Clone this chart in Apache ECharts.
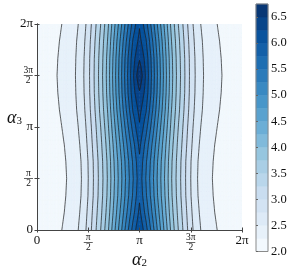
<!DOCTYPE html>
<html><head><meta charset="utf-8">
<script src="https://cdn.jsdelivr.net/npm/echarts@6/dist/echarts.min.js"></script>
<style>html,body{margin:0;padding:0;background:#fff}#c{width:289px;height:273px}</style>
</head><body><div id="c"></div>
<script>
// grid positions, in units of pi
const alpha2 = [0,0.0625,0.125,0.1875,0.25,0.3125,0.375,0.4375,0.5,0.5625,0.625,0.6875,0.75,0.8125,0.875,0.9375,1,
  1.0625,1.125,1.1875,1.25,1.3125,1.375,1.4375,1.5,1.5625,1.625,1.6875,1.75,1.8125,1.875,1.9375,2];
const alpha3 = [0,0.16667,0.33333,0.5,0.66667,0.83333,1,1.16667,1.33333,1.5,1.66667,1.83333,2];
// values, one row per alpha3 position
const z00 = [2.08,2.10,2.14,2.18,2.26,2.35,2.43,2.59,2.84,3.17,3.52,3.92,4.41,4.89,5.38,5.85,6.22,5.85,5.38,4.89,4.41,3.92,3.52,3.17,2.84,2.59,2.43,2.35,2.26,2.18,2.14,2.10,2.08];
const z01 = [2.06,2.08,2.11,2.15,2.23,2.31,2.40,2.55,2.80,3.12,3.46,3.84,4.31,4.77,5.23,5.67,6.07,5.67,5.23,4.77,4.31,3.84,3.46,3.12,2.80,2.55,2.40,2.31,2.23,2.15,2.11,2.08,2.06];
const z02 = [2.04,2.06,2.09,2.13,2.21,2.29,2.37,2.52,2.76,3.07,3.41,3.78,4.24,4.67,5.12,5.54,5.95,5.54,5.12,4.67,4.24,3.78,3.41,3.07,2.76,2.52,2.37,2.29,2.21,2.13,2.09,2.06,2.04];
const z03 = [2.03,2.05,2.08,2.12,2.20,2.28,2.36,2.51,2.75,3.06,3.39,3.76,4.21,4.64,5.08,5.49,5.90,5.49,5.08,4.64,4.21,3.76,3.39,3.06,2.75,2.51,2.36,2.28,2.20,2.12,2.08,2.05,2.03];
const z04 = [2.04,2.06,2.09,2.13,2.21,2.29,2.37,2.52,2.76,3.07,3.41,3.78,4.24,4.67,5.12,5.54,5.95,5.54,5.12,4.67,4.24,3.78,3.41,3.07,2.76,2.52,2.37,2.29,2.21,2.13,2.09,2.06,2.04];
const z05 = [2.06,2.08,2.11,2.15,2.23,2.31,2.40,2.55,2.80,3.12,3.46,3.84,4.31,4.77,5.23,5.67,6.07,5.67,5.23,4.77,4.31,3.84,3.46,3.12,2.80,2.55,2.40,2.31,2.23,2.15,2.11,2.08,2.06];
const z06 = [2.08,2.10,2.14,2.18,2.26,2.35,2.43,2.59,2.84,3.17,3.52,3.92,4.41,4.89,5.38,5.85,6.22,5.85,5.38,4.89,4.41,3.92,3.52,3.17,2.84,2.59,2.43,2.35,2.26,2.18,2.14,2.10,2.08];
const z07 = [2.11,2.13,2.16,2.21,2.29,2.38,2.47,2.63,2.89,3.23,3.59,4.00,4.51,5.02,5.53,6.03,6.33,6.03,5.53,5.02,4.51,4.00,3.59,3.23,2.89,2.63,2.47,2.38,2.29,2.21,2.16,2.13,2.11];
const z08 = [2.12,2.14,2.18,2.23,2.31,2.40,2.49,2.66,2.92,3.27,3.63,4.06,4.58,5.11,5.64,6.16,6.47,6.16,5.64,5.11,4.58,4.06,3.63,3.27,2.92,2.66,2.49,2.40,2.31,2.23,2.18,2.14,2.12];
const z09 = [2.13,2.15,2.19,2.24,2.32,2.41,2.50,2.67,2.93,3.28,3.65,4.08,4.61,5.14,5.68,6.21,6.72,6.21,5.68,5.14,4.61,4.08,3.65,3.28,2.93,2.67,2.50,2.41,2.32,2.24,2.19,2.15,2.13];
const z10 = [2.12,2.14,2.18,2.23,2.31,2.40,2.49,2.66,2.92,3.27,3.63,4.06,4.58,5.11,5.64,6.16,6.47,6.16,5.64,5.11,4.58,4.06,3.63,3.27,2.92,2.66,2.49,2.40,2.31,2.23,2.18,2.14,2.12];
const z11 = [2.11,2.13,2.16,2.21,2.29,2.38,2.47,2.63,2.89,3.23,3.59,4.00,4.51,5.02,5.53,6.03,6.33,6.03,5.53,5.02,4.51,4.00,3.59,3.23,2.89,2.63,2.47,2.38,2.29,2.21,2.16,2.13,2.11];
const z12 = [2.08,2.10,2.14,2.18,2.26,2.35,2.43,2.59,2.84,3.17,3.52,3.92,4.41,4.89,5.38,5.85,6.22,5.85,5.38,4.89,4.41,3.92,3.52,3.17,2.84,2.59,2.43,2.35,2.26,2.18,2.14,2.10,2.08];
const levels = [2.0,2.25,2.5,2.75,3.0,3.25,3.5,3.75,4.0,4.25,4.5,4.75,5.0,5.25,5.5,5.75,6.0,6.25,6.5,6.75];
const cbTickValues = [2.0,2.5,3.0,3.5,4.0,4.5,5.0,5.5,6.0,6.5];
const piTickValues = [0,0.5,1,1.5,2];
const piTickLabels = ['0','π/2','π','3π/2','2π'];

const Z = [z00,z01,z02,z03,z04,z05,z06,z07,z08,z09,z10,z11,z12];
const nb = levels.length - 1;
const SUB = 4;
const anchors = ['#f7fbff','#deebf7','#c6dbef','#9ecae1','#6baed6','#4292c6','#2171b5','#08519c','#08306b'];
function hx(h){return [1,3,5].map(i=>parseInt(h.substr(i,2),16));}
function blues(t){
  const s = Math.max(0,Math.min(1,t))*8; const k = Math.min(7,Math.floor(s)); const f = s-k;
  const a = hx(anchors[k]), b = hx(anchors[k+1]);
  return 'rgb(' + a.map((v,i)=>Math.round(v+(b[i]-v)*f)).join(',') + ')';
}
const bandColors = [];
for (let b=0;b<nb;b++) bandColors.push(blues(((levels[b]+levels[b+1])/2 - levels[0])/(levels[nb]-levels[0])));

const cells = [];
for (let j=0;j<alpha3.length-1;j++) for (let i=0;i<alpha2.length-1;i++) cells.push([i,j]);
const bands = [];
for (let b=0;b<nb;b++) bands.push([b, levels[b], levels[b+1]]);

function clip(poly, L, above){
  const out=[];
  for (let k=0;k<poly.length;k++){
    const p=poly[k], q=poly[(k+1)%poly.length];
    const pin = above ? p.v>=L : p.v<=L;
    const qin = above ? q.v>=L : q.v<=L;
    if (pin) out.push(p);
    if (pin!==qin){const t=(L-p.v)/(q.v-p.v); out.push({x:p.x+t*(q.x-p.x), y:p.y+t*(q.y-p.y), v:L});}
  }
  return out;
}
// split a grid cell into small triangles (bilinear shading of the cell)
function cellTris(api){
  const i=api.value(0), j=api.value(1);
  const p00=api.coord([alpha2[i],alpha3[j]]), p11=api.coord([alpha2[i+1],alpha3[j+1]]);
  const v00=Z[j][i], v10=Z[j][i+1], v01=Z[j+1][i], v11=Z[j+1][i+1];
  const P=[];
  for (let b=0;b<=SUB;b++){ const row=[]; const s=b/SUB;
    for (let a=0;a<=SUB;a++){ const r=a/SUB;
      row.push({x:p00[0]+r*(p11[0]-p00[0]), y:p00[1]+s*(p11[1]-p00[1]),
        v:(1-r)*(1-s)*v00 + r*(1-s)*v10 + (1-r)*s*v01 + r*s*v11});
    } P.push(row); }
  const tris=[]; const flip = i>=16;
  for (let b=0;b<SUB;b++) for (let a=0;a<SUB;a++){
    const A=P[b][a], B=P[b][a+1], C=P[b+1][a+1], D=P[b+1][a];
    if (!flip){tris.push([A,B,C]);tris.push([A,C,D]);} else {tris.push([A,B,D]);tris.push([B,C,D]);}
  }
  return tris;
}
function f2(n){return n.toFixed(2);}
function renderFill(params, api){
  const paths=new Array(nb).fill('');
  for (const t of cellTris(api)){
    const vmin=Math.min(t[0].v,t[1].v,t[2].v), vmax=Math.max(t[0].v,t[1].v,t[2].v);
    for (let b=0;b<nb;b++){
      const lo = b===0 ? -Infinity : levels[b];
      const hi = b===nb-1 ? Infinity : levels[b+1];
      if (vmax<lo || vmin>hi) continue;
      let poly=t;
      if (b>0) poly=clip(poly,lo,true);
      if (b<nb-1 && poly.length) poly=clip(poly,hi,false);
      if (poly.length>=3) paths[b]+='M'+poly.map(p=>f2(p.x)+' '+f2(p.y)).join('L')+'Z';
    }
  }
  const children=[];
  paths.forEach((d,b)=>{ if(d) children.push({type:'path',shape:{pathData:d},style:{fill:bandColors[b],stroke:bandColors[b],lineWidth:0.5}}); });
  return {type:'group',children};
}
function renderLines(params, api){
  let d='';
  for (const t of cellTris(api)){
    for (let L=1;L<levels.length-1;L++){
      const lv=levels[L]; const pts=[];
      for (let k=0;k<3;k++){
        const p=t[k], q=t[(k+1)%3];
        if ((p.v<lv)!==(q.v<lv)){const s=(lv-p.v)/(q.v-p.v); pts.push([p.x+s*(q.x-p.x), p.y+s*(q.y-p.y)]);}
      }
      if (pts.length===2) d+='M'+f2(pts[0][0])+' '+f2(pts[0][1])+'L'+f2(pts[1][0])+' '+f2(pts[1][1]);
    }
  }
  if (!d) return null;
  return {type:'path',shape:{pathData:d},style:{fill:null,stroke:'#1c1c1c',lineWidth:0.7}};
}
const FONT = "'Liberation Serif', 'DejaVu Serif', serif";
function piLabel(v){
  const idx = piTickValues.findIndex(t=>Math.abs(t-v)<1e-6);
  if (idx<0) return '';
  const s = piTickLabels[idx];
  const parts = s.split('/');
  if (parts.length===2) return '{n|'+parts[0]+'}\n{b| }\n{d|'+parts[1]+'}';
  return '{t|'+s+'}';
}
const rich = {
  t:{fontFamily:FONT,fontSize:13,color:'#111',lineHeight:13},
  n:{fontFamily:FONT,fontSize:9.5,color:'#111',lineHeight:7.5,align:'center'},
  b:{fontSize:1,lineHeight:2,height:0.7,width:9,backgroundColor:'#222',align:'center'},
  d:{fontFamily:FONT,fontSize:9.5,color:'#111',lineHeight:7.5,align:'center'}
};
const axisCommon = {type:'value',min:0,max:2,interval:0.5,z:10,
  axisLine:{show:true,lineStyle:{color:'#444',width:1}},
  axisTick:{show:true,inside:true,length:2.5,lineStyle:{color:'#444'}},
  splitLine:{show:false}};
const nameRich = {
  a:{fontFamily:FONT,fontSize:18,fontStyle:'italic',color:'#111',lineHeight:18},
  s:{fontFamily:FONT,fontSize:11,color:'#111',lineHeight:10,verticalAlign:'bottom'}
};
const chart = echarts.init(document.getElementById('c'),null,{renderer:'canvas'});
chart.setOption({
  animation:false,
  backgroundColor:'#fff',
  grid:[{left:37,top:24,width:205,height:206,containLabel:false,outerBoundsMode:'none'},
        {left:256,top:4,width:12,height:247.5,containLabel:false,outerBoundsMode:'none'}],
  xAxis:[
    Object.assign({},axisCommon,{gridIndex:0,position:'bottom',
      axisLabel:{show:true,margin:4,formatter:piLabel,rich:rich},
      name:'{a|α}{s|2}',nameLocation:'middle',nameGap:21,nameMoveOverlap:false,nameTextStyle:{rich:nameRich}}),
    Object.assign({},axisCommon,{gridIndex:0,position:'top',axisLabel:{show:false}}),
    {gridIndex:1,type:'value',min:0,max:1,show:false}
  ],
  yAxis:[
    Object.assign({},axisCommon,{gridIndex:0,position:'left',
      axisLabel:{show:true,margin:4,formatter:piLabel,rich:rich},
      name:'{a|α}{s|3}',nameLocation:'middle',nameGap:15,nameRotate:0,nameMoveOverlap:false,nameTextStyle:{rich:nameRich,padding:[0,0,18,0]}}),
    Object.assign({},axisCommon,{gridIndex:0,position:'right',axisLabel:{show:false}}),
    {gridIndex:1,type:'value',min:2,max:6.75,interval:0.5,position:'right',z:10,
      axisLine:{show:false},splitLine:{show:false},
      axisTick:{show:true,length:2,lineStyle:{color:'#666'}},
      axisLabel:{show:true,margin:3,showMaxLabel:false,fontFamily:FONT,fontSize:12.5,color:'#111',
        formatter:v=>cbTickValues.some(t=>Math.abs(t-v)<1e-6)?v.toFixed(1):''}}
  ],
  series:[
    {type:'custom',xAxisIndex:0,yAxisIndex:0,data:cells,renderItem:renderFill,clip:true,z:2,silent:true,progressive:0},
    {type:'custom',xAxisIndex:0,yAxisIndex:0,data:cells,renderItem:renderLines,clip:true,z:3,silent:true,progressive:0},
    {type:'custom',xAxisIndex:2,yAxisIndex:2,data:bands,silent:true,progressive:0,z:2,
      renderItem:(params,api)=>{const p0=api.coord([0,api.value(1)]),p1=api.coord([1,api.value(2)]);
        return {type:'rect',shape:{x:p0[0],y:p1[1],width:p1[0]-p0[0],height:p0[1]-p1[1]},style:{fill:bandColors[api.value(0)],stroke:bandColors[api.value(0)],lineWidth:0.5}};}},
    {type:'custom',xAxisIndex:2,yAxisIndex:2,data:[[0]],silent:true,z:4,
      renderItem:(params,api)=>{const p0=api.coord([0,levels[0]]),p1=api.coord([1,levels[nb]]);
        return {type:'rect',shape:{x:p0[0],y:p1[1],width:p1[0]-p0[0],height:p0[1]-p1[1]},style:{fill:null,stroke:'#8a8a8a',lineWidth:1}};}}
  ]
});
</script></body></html>
